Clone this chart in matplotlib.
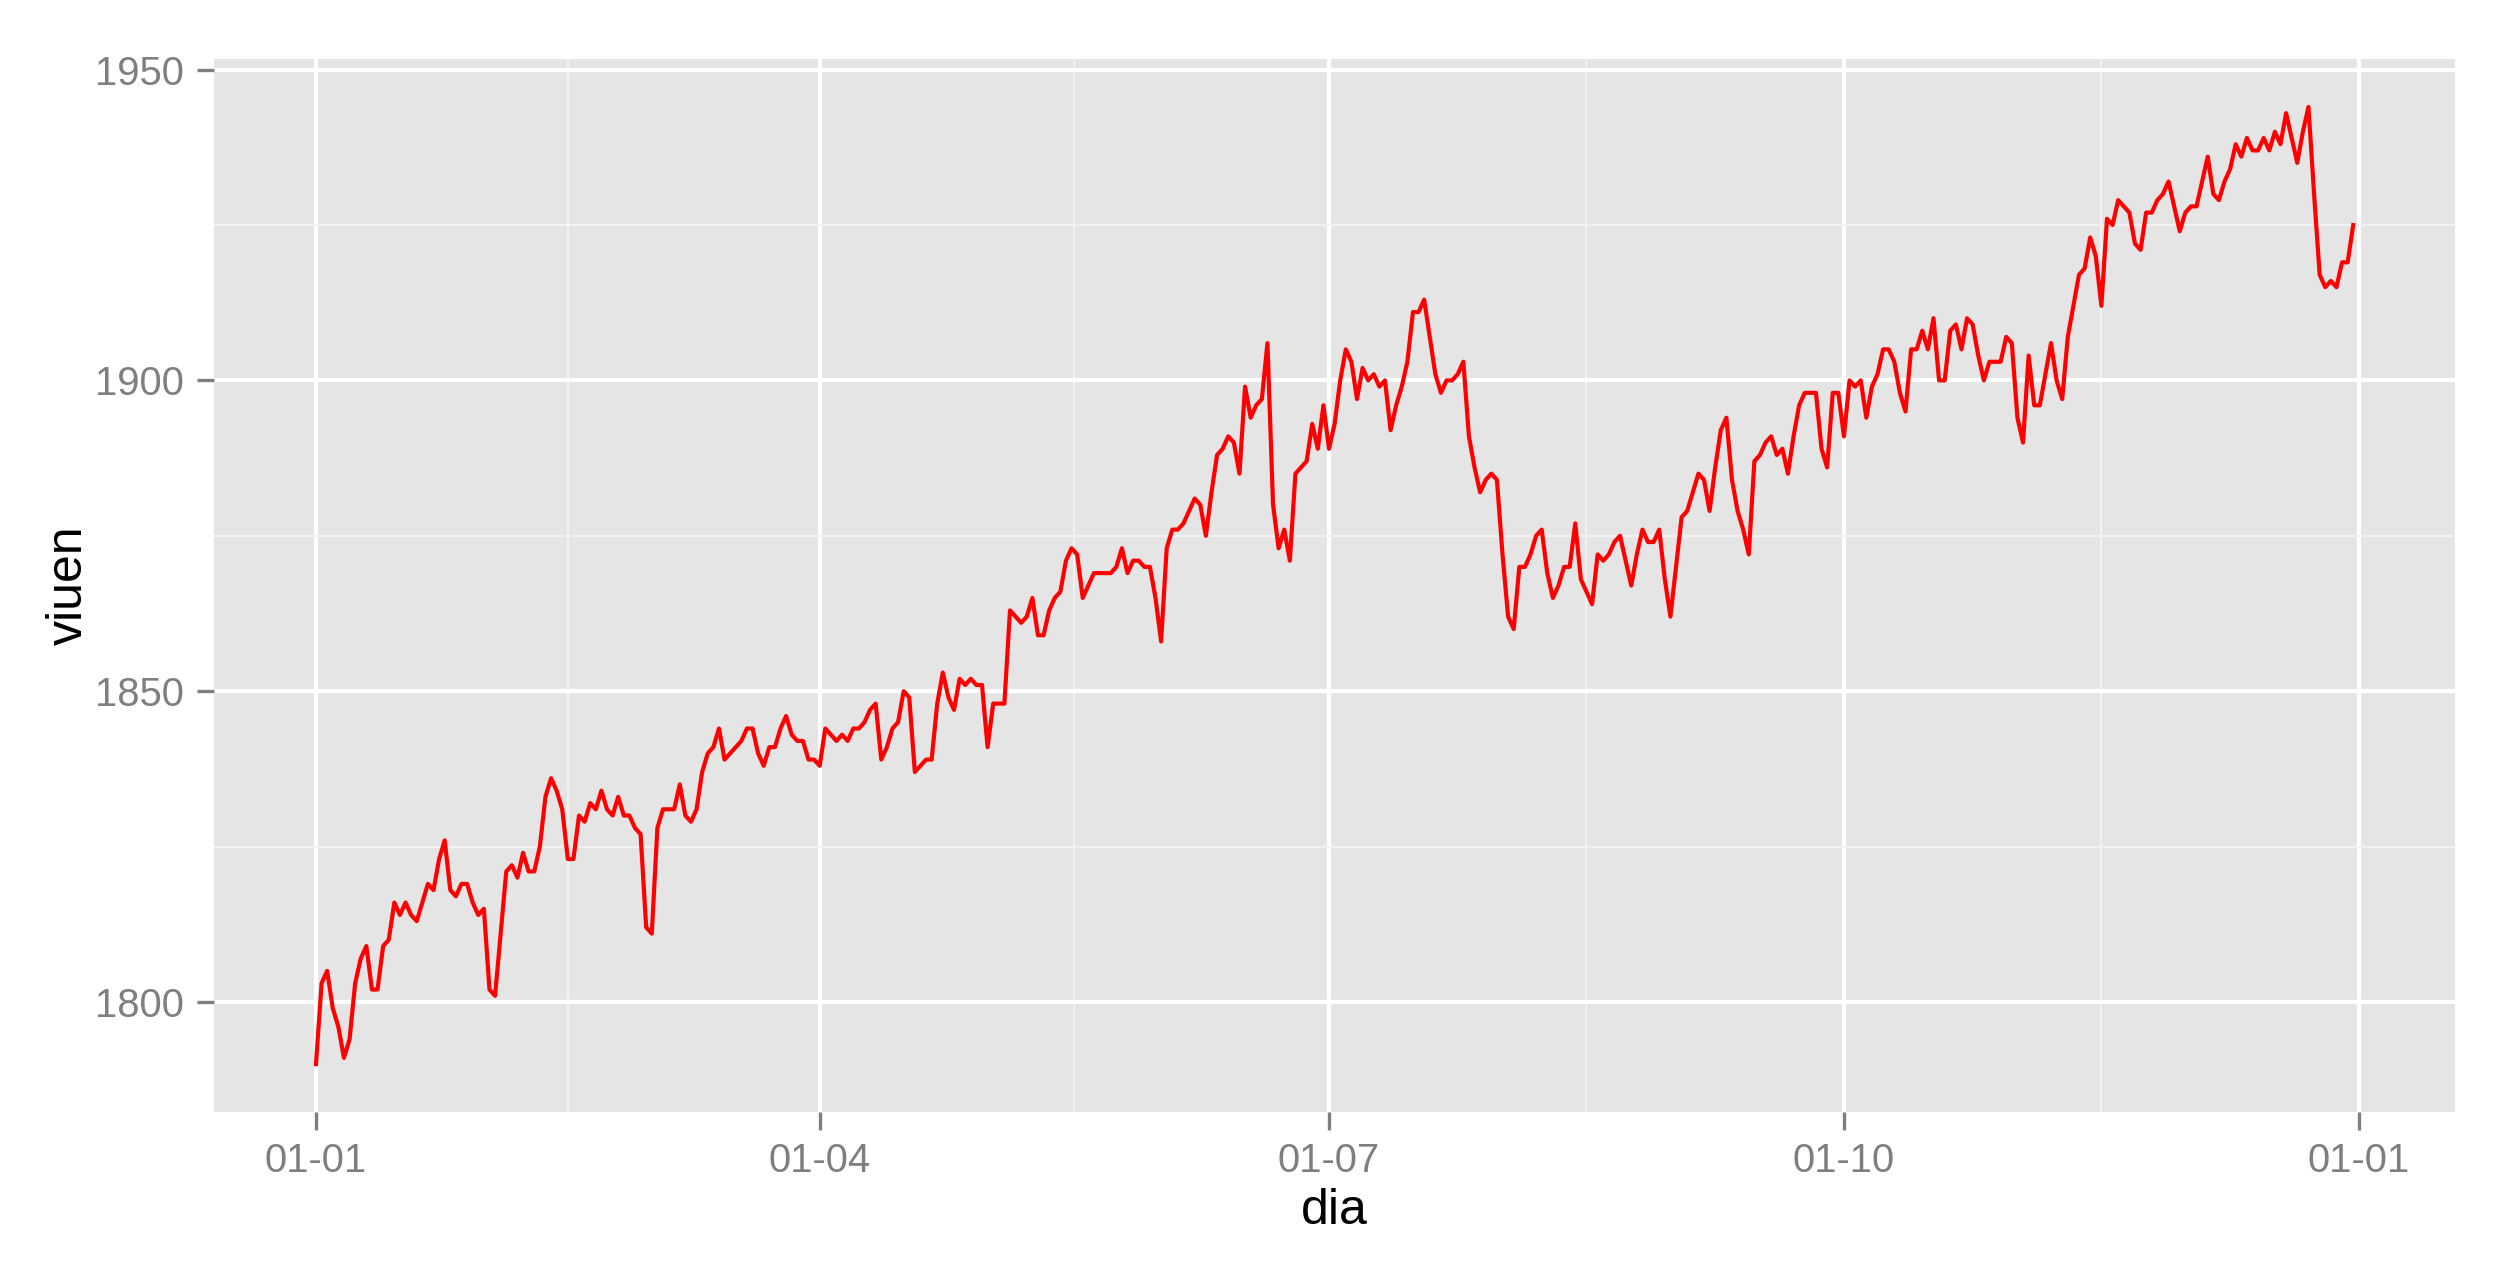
import numpy as np
import pandas as pd
import matplotlib
matplotlib.use("Agg")
import matplotlib.pyplot as plt
import matplotlib.dates as mdates

plt.rcParams['font.family'] = ['Liberation Sans', 'DejaVu Sans']

# -----------------------------
# Data (one value per day, 2013)
# -----------------------------

gen = [1790, 1803, 1805, 1799, 1796, 1791, 1794, 1803, 1807, 1809, 1802, 1802, 1809, 1810, 1816, 1814,
       1816, 1814, 1813, 1816, 1819, 1818, 1823, 1826, 1818, 1817, 1819, 1819, 1816, 1814, 1815]
feb = [1802, 1801, 1811, 1821, 1822, 1820, 1824, 1821, 1821, 1825, 1833, 1836, 1834, 1831, 1823, 1823,
       1830, 1829, 1832, 1831, 1834, 1831, 1830, 1833, 1830, 1830, 1828, 1827]
mar = [1812, 1811, 1828, 1831, 1831, 1831, 1835, 1830, 1829, 1831, 1837, 1840, 1841, 1844, 1839, 1840,
       1841, 1842, 1844, 1844, 1840, 1838, 1841, 1841, 1844, 1846, 1843, 1842, 1842, 1839, 1839]
abr = [1838, 1844, 1843, 1842, 1843, 1842, 1844, 1844, 1845, 1847, 1848, 1839, 1841, 1844, 1845, 1850,
       1849, 1837, 1838, 1839, 1839, 1848, 1853, 1849, 1847, 1852, 1851, 1852, 1851, 1851]
mai = [1841, 1848, 1848, 1848, 1863, 1862, 1861, 1862, 1865, 1859, 1859, 1863, 1865, 1866, 1871, 1873,
       1872, 1865, 1867, 1869, 1869, 1869, 1869, 1870, 1873, 1869, 1871, 1871, 1870, 1870, 1865]
jun = [1858, 1873, 1876, 1876, 1877, 1879, 1881, 1880, 1875, 1882, 1888, 1889, 1891, 1890, 1885, 1899,
       1894, 1896, 1897, 1906, 1880, 1873, 1876, 1871, 1885, 1886, 1887, 1893, 1889, 1896]
jul = [1889, 1893, 1900, 1905, 1903, 1897, 1902, 1900, 1901, 1899, 1900, 1892, 1896, 1899, 1903, 1911,
       1911, 1913, 1907, 1901, 1898, 1900, 1900, 1901, 1903, 1891, 1886, 1882, 1884, 1885, 1884]
ago = [1872, 1862, 1860, 1870, 1870, 1872, 1875, 1876, 1869, 1865, 1867, 1870, 1870, 1877, 1868, 1866,
       1864, 1872, 1871, 1872, 1874, 1875, 1871, 1867, 1872, 1876, 1874, 1874, 1876, 1868, 1862]
set_ = [1870, 1878, 1879, 1882, 1885, 1884, 1879, 1886, 1892, 1894, 1884, 1879, 1876, 1872, 1887, 1888,
        1890, 1891, 1888, 1889, 1885, 1891, 1896, 1898, 1898, 1898, 1889, 1886, 1898, 1898]
oct_ = [1891, 1900, 1899, 1900, 1894, 1899, 1901, 1905, 1905, 1903, 1898, 1895, 1905, 1905, 1908, 1905,
        1910, 1900, 1900, 1908, 1909, 1905, 1910, 1909, 1904, 1900, 1903, 1903, 1903, 1907, 1906]
nov = [1894, 1890, 1904, 1896, 1896, 1901, 1906, 1900, 1897, 1907, 1912, 1917, 1918, 1923, 1920, 1912,
       1926, 1925, 1929, 1928, 1927, 1922, 1921, 1927, 1927, 1929, 1930, 1932, 1928, 1924]
des = [1927, 1928, 1928, 1932, 1936, 1930, 1929, 1932, 1934, 1938, 1936, 1939, 1937, 1937, 1939, 1937,
       1940, 1938, 1943, 1939, 1935, 1940, 1944, 1930, 1917, 1915, 1916, 1915, 1919, 1919, 1925]

viuen = gen + feb + mar + abr + mai + jun + jul + ago + set_ + oct_ + nov + des
dia = pd.date_range("2013-01-01", periods=len(viuen), freq="D")

x_breaks = pd.to_datetime(["2013-01-01", "2013-04-01", "2013-07-01", "2013-10-01", "2014-01-01"])
y_breaks = [1800, 1850, 1900, 1950]
y_minor = [1825, 1875, 1925]

# -----------------------------
# Plot (ggplot2 grey look)
# -----------------------------

fig = plt.figure(figsize=(2516 / 300, 1270 / 300), dpi=300)
ax = fig.add_axes([0.0851, 0.1244, 0.8907, 0.8291])
ax.set_facecolor("#E5E5E5")

ax.plot(dia, viuen, color="#FF0000", lw=1.0, zorder=3)
ax.margins(x=0.05, y=0.05)

xnum = mdates.date2num(x_breaks)
ax.set_xticks(xnum)
ax.set_xticklabels([d.strftime("%d-%m") for d in x_breaks])
ax.set_xticks((xnum[:-1] + xnum[1:]) / 2, minor=True)
ax.set_yticks(y_breaks)
ax.set_yticks(y_minor, minor=True)

ax.grid(which="major", color="white", lw=1.0)
ax.grid(which="minor", color="#F2F2F2", lw=0.5)
ax.set_axisbelow(True)
for s in ax.spines.values():
    s.set_visible(False)

ax.tick_params(which="major", length=4.2, width=0.8, color="#7F7F7F",
               labelcolor="#7F7F7F", labelsize=9.6, pad=3)
ax.tick_params(which="minor", length=0)

ax.set_xlabel("dia", fontsize=12, labelpad=2)
ax.set_ylabel("viuen", fontsize=12, labelpad=0.8)

fig.savefig("out.png", dpi=300)
